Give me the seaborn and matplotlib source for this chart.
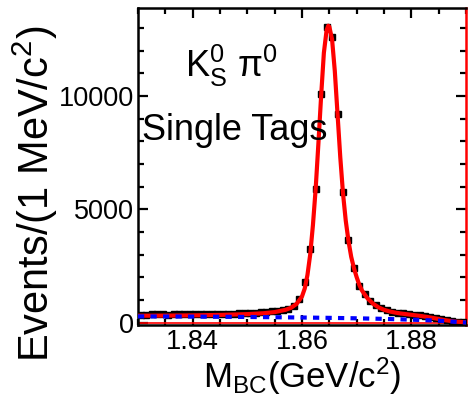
import numpy as np
import pandas as pd
import matplotlib
matplotlib.use("Agg")
import matplotlib.pyplot as plt
import seaborn as sns
from matplotlib.ticker import MultipleLocator

# ---- data ----
bin_centers = [1.8305, 1.8315, 1.8325, 1.8335, 1.8345, 1.8355, 1.8365, 1.8375, 1.8385, 1.8395,
               1.8405, 1.8415, 1.8425, 1.8435, 1.8445, 1.8455, 1.8465, 1.8475, 1.8485, 1.8495,
               1.8505, 1.8515, 1.8525, 1.8535, 1.8545, 1.8555, 1.8565, 1.8575, 1.8585, 1.8595,
               1.8605, 1.8615, 1.8625, 1.8635, 1.8645, 1.8655, 1.8665, 1.8675, 1.8685, 1.8695,
               1.8705, 1.8715, 1.8725, 1.8735, 1.8745, 1.8755, 1.8765, 1.8775, 1.8785, 1.8795,
               1.8805, 1.8815, 1.8825, 1.8835, 1.8845, 1.8855, 1.8865, 1.8875, 1.8885, 1.8895]
events = [350, 350, 355, 355, 355, 350, 355, 360, 360, 355,
          365, 365, 370, 375, 375, 380, 385, 390, 400, 410,
          420, 430, 445, 465, 490, 520, 560, 610, 740, 1050,
          1800, 3230, 5900, 10090, 13050, 12600, 9210, 5760, 3620, 2420,
          1620, 1270, 960, 780, 620, 540, 480, 440, 410, 380,
          350, 320, 280, 240, 200, 150, 100, 60, 30, 20]

fit_x = [1.830, 1.835, 1.840, 1.845, 1.850, 1.853, 1.855, 1.857, 1.858, 1.859,
         1.860, 1.8605, 1.861, 1.8615, 1.862, 1.8625, 1.863, 1.8635, 1.864, 1.8645,
         1.8648, 1.865, 1.8655, 1.866, 1.8665, 1.867, 1.8675, 1.868, 1.8685, 1.869,
         1.8695, 1.870, 1.8705, 1.871, 1.872, 1.873, 1.874, 1.875, 1.876, 1.877,
         1.878, 1.880, 1.882, 1.884, 1.886, 1.888, 1.890]
fit_y = [300, 305, 315, 335, 370, 410, 460, 560, 650, 820,
         1150, 1500, 2100, 3000, 4300, 5900, 7900, 10000, 11900, 12900,
         13100, 13050, 12500, 11100, 9200, 7300, 5700, 4500, 3600, 2900,
         2400, 2000, 1650, 1400, 1060, 830, 670, 560, 490, 440,
         400, 340, 280, 200, 110, 40, 10]

bkg_x = [1.830, 1.840, 1.850, 1.860, 1.865, 1.870, 1.875, 1.880, 1.883, 1.885, 1.887, 1.888, 1.889, 1.890]
bkg_y = [270, 260, 245, 220, 205, 185, 160, 125, 100, 80, 50, 30, 10, 0]

peak_x = [1.830, 1.890]
peak_y = [0, 0]

# ---- style ----
sns.set_style("ticks")
plt.rcParams["font.family"] = ["Liberation Sans", "DejaVu Sans"]
plt.rcParams["mathtext.fontset"] = "custom"
plt.rcParams["mathtext.rm"] = "Liberation Sans"
plt.rcParams["mathtext.it"] = "Liberation Sans:italic"
plt.rcParams["mathtext.sf"] = "Liberation Sans"
plt.rcParams["text.color"] = "black"
plt.rcParams["axes.labelcolor"] = "black"
plt.rcParams["xtick.color"] = "black"
plt.rcParams["ytick.color"] = "black"

fig = plt.figure(figsize=(4.71, 4.04), dpi=100)
ax = fig.add_axes([138 / 471, 1 - 325 / 404, (466 - 138) / 471, (325 - 8) / 404])

df_fit = pd.DataFrame({"x": fit_x, "y": fit_y})
df_bkg = pd.DataFrame({"x": bkg_x, "y": bkg_y})
df_pk = pd.DataFrame({"x": peak_x, "y": peak_y})

sns.lineplot(data=df_pk, x="x", y="y", ax=ax, color="#ff0000", linewidth=1.2, zorder=2)
ax.errorbar(bin_centers, events, xerr=0.0004, fmt="s", ms=4.2, color="black",
            elinewidth=2.2, capsize=0, zorder=3)
sns.lineplot(data=df_fit, x="x", y="y", ax=ax, color="#ff0000", linewidth=3.0, zorder=4)
sns.lineplot(data=df_bkg, x="x", y="y", ax=ax, color="#0000ff", linewidth=3.0,
             linestyle=(0, (1.5, 1.5)), zorder=5)

ax.set_xlim(1.83, 1.89)
ax.set_ylim(-110, 13880)
ax.xaxis.set_major_locator(MultipleLocator(0.02))
ax.xaxis.set_minor_locator(MultipleLocator(0.005))
ax.yaxis.set_major_locator(MultipleLocator(5000))
ax.yaxis.set_minor_locator(MultipleLocator(1000))
ax.xaxis.set_major_formatter(matplotlib.ticker.FormatStrFormatter("%.2f"))
ax.yaxis.set_major_formatter(matplotlib.ticker.FormatStrFormatter("%d"))

ax.tick_params(which="both", direction="in", top=True, right=True, width=1.6,
               labelsize=19.5, colors="black", pad=3)
ax.tick_params(which="major", length=7.5)
ax.tick_params(which="minor", length=4.5)
for s in ax.spines.values():
    s.set_linewidth(1.8)
    s.set_color("black")
ax.spines["right"].set_color("#ff0000")
ax.spines["right"].set_visible(True)
ax.spines["top"].set_visible(True)

ax.set_xlabel(r"M$_{\mathregular{BC}}$(GeV/c$^{\mathregular{2}}$)", fontsize=25, labelpad=0, color="black")
ax.set_ylabel("")
fig.text(35 / 471, 1 - 194 / 404, r"Events/(1 MeV/c$^{\mathregular{2}}$)", fontsize=30,
         rotation=90, ha="center", va="center", color="black")

fig.text(185 / 471, 1 - 77 / 404, r"K$^{\mathregular{0}}_{\mathregular{S}}$ π$^{\mathregular{0}}$",
         fontsize=26, va="baseline", ha="left", color="black")
fig.text(142 / 471, 1 - 140 / 404, "Single Tags", fontsize=26, va="baseline", ha="left", color="black")

fig.savefig("out.png", dpi=100)
